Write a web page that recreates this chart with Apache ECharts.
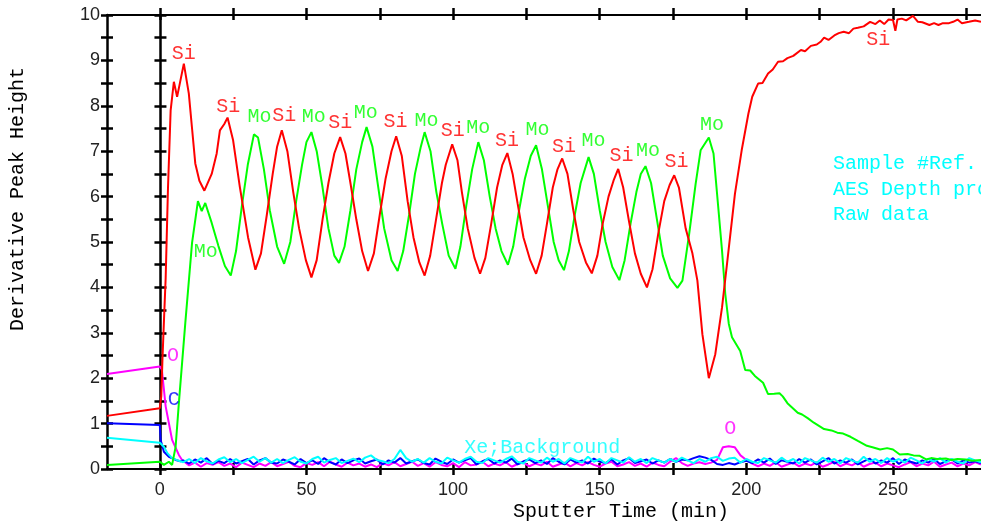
<!DOCTYPE html>
<html>
<head>
<meta charset="utf-8">
<script src="https://cdn.jsdelivr.net/npm/echarts@6/dist/echarts.min.js"></script>
<style>
  html, body { margin: 0; padding: 0; background: #fff; }
  #chart { width: 981px; height: 525px; }
</style>
</head>
<body>
<div id="chart"></div>
<script>
// Axis ticks and labels
const xTicks = [0, 25, 50, 75, 100, 125, 150, 175, 200, 225, 250, 275];
const xLabels = [0, 50, 100, 150, 200, 250];
const yLabels = [0, 1, 2, 3, 4, 5, 6, 7, 8, 9, 10];

// Si signal (sputter time, peak height)
const siProfile = [
  [-18, 1.17], [0, 1.34], [0.5, 1.6], [0.9, 2.4], [1.5, 3.4], [2, 4.2], [2.8, 6.2], [3.7, 7.9],
  [4.8, 8.53], [5.9, 8.2], [6.7, 8.45], [8.2, 8.93], [9.9, 8.27], [11, 7.5], [12.1, 6.73],
  [13.5, 6.35], [15.2, 6.13], [17.7, 6.5], [19.4, 6.95], [20.5, 7.46], [22, 7.6], [23.1, 7.74],
  [25, 7.24], [27.3, 6.21], [30.1, 5.1], [32.6, 4.39], [34.5, 4.75], [36.5, 5.6], [38.5, 6.5],
  [40, 7.1], [41.6, 7.46], [43.5, 7.0], [45.5, 6.1], [47.5, 5.3], [49.8, 4.6], [51.7, 4.22],
  [53.5, 4.6], [55.5, 5.5], [57.5, 6.3], [59.5, 6.95], [61.5, 7.31], [63.3, 6.95], [65, 6.3],
  [67, 5.5], [69, 4.8], [71, 4.36], [73, 4.75], [75, 5.6], [77, 6.4], [79, 7.0], [80.6, 7.33],
  [82.5, 6.9], [84.5, 5.9], [86.5, 5.1], [88.5, 4.55], [90.3, 4.26], [92.2, 4.7], [94.2, 5.5],
  [96.2, 6.3], [97.5, 6.7], [99.7, 7.15], [101.5, 6.8], [103, 6.1], [105, 5.3], [107.3, 4.65],
  [109.2, 4.3], [111, 4.65], [113, 5.4], [115, 6.2], [116.8, 6.7], [118.5, 6.96], [120.3, 6.5],
  [122, 5.85], [124, 5.1], [126.3, 4.6], [128.3, 4.3], [130.2, 4.7], [132, 5.4], [134, 6.2],
  [135.6, 6.6], [137.2, 6.84], [139, 6.5], [141, 5.7], [143, 5.0], [145.3, 4.55], [147.3, 4.31],
  [149.2, 4.7], [151, 5.4], [153, 6.0], [154.7, 6.35], [156.3, 6.61], [158, 6.2], [160, 5.45],
  [162, 4.75], [164, 4.3], [166.1, 4.0], [168, 4.4], [170, 5.2], [172, 5.9], [173.8, 6.25],
  [175.4, 6.47], [177, 6.2], [179.3, 5.3], [181.6, 4.75], [183.3, 4.15], [185, 2.97], [187.2, 2.0],
  [189.4, 2.53], [191.7, 3.56], [193.4, 4.52], [196.1, 6.06], [198.4, 7.02], [200.7, 7.83],
  [202, 8.2], [204, 8.49], [205.5, 8.5], [207.4, 8.71], [209, 8.8], [210.8, 8.97], [212.5, 8.98],
  [214, 9.05], [216, 9.1], [218.6, 9.23], [220, 9.2], [222, 9.32], [224, 9.35], [225.3, 9.41],
  [226.5, 9.5], [228, 9.45], [230, 9.55], [231.5, 9.6], [233.2, 9.63], [235, 9.6], [236.5, 9.7],
  [238, 9.72], [240, 9.75], [242.2, 9.85], [244, 9.8], [245.5, 9.88], [247, 9.8], [248.5, 9.9],
  [250, 9.89], [250.8, 9.65], [251.5, 9.9], [253, 9.92], [254.5, 9.88], [256.8, 9.98],
  [258.5, 9.85], [260, 9.84], [262.4, 9.78], [264, 9.82], [265.5, 9.78], [267, 9.82],
  [269.1, 9.82], [270.5, 9.85], [272, 9.9], [273.5, 9.82], [275.9, 9.85], [278, 9.88], [280, 9.85]
];

// Mo signal
const moProfile = [
  [-18, 0.09], [0, 0.16], [1.4, 0.09], [3.1, 0.16], [4.2, 0.09], [5.4, 0.49], [6.5, 1.45],
  [8.7, 3.22], [11, 4.98], [13, 5.9], [14.3, 5.68], [15.5, 5.86], [17.7, 5.42], [20, 4.91],
  [22.2, 4.47], [24.2, 4.26], [26, 4.8], [28, 5.8], [30, 6.7], [32.1, 7.37], [33.5, 7.3],
  [35.5, 6.6], [37.5, 5.7], [40, 4.9], [42.4, 4.52], [44.5, 5.0], [46.5, 5.9], [48.5, 6.7],
  [50, 7.2], [51.7, 7.42], [53.5, 7.0], [55.5, 6.2], [57.5, 5.3], [59.5, 4.7], [61.1, 4.54],
  [63, 4.9], [65, 5.7], [67, 6.6], [69, 7.2], [70.5, 7.53], [72.5, 7.1], [74.5, 6.2], [76.5, 5.3],
  [79, 4.6], [81.1, 4.36], [83, 4.8], [85, 5.6], [87, 6.5], [89, 7.1], [90.3, 7.42], [92.3, 7.0],
  [94.3, 6.1], [96.3, 5.4], [98.5, 4.7], [100.8, 4.41], [102.5, 4.9], [104.5, 5.8], [106.5, 6.6],
  [108.6, 7.2], [110.5, 6.8], [112.5, 6.0], [114.5, 5.3], [116.5, 4.8], [118.7, 4.5], [120.5, 4.9],
  [122.5, 5.7], [124.5, 6.4], [126.5, 6.9], [128.3, 7.13], [130.3, 6.6], [132.3, 5.8], [134.3, 5.0],
  [136, 4.6], [137.8, 4.38], [139.5, 4.8], [141.5, 5.6], [143.5, 6.3], [146.2, 6.87], [148, 6.5],
  [150, 5.7], [152, 5.0], [154.3, 4.45], [156.7, 4.16], [158.5, 4.6], [160.5, 5.4], [162.5, 6.1],
  [164, 6.5], [165.6, 6.67], [167.5, 6.3], [169.5, 5.5], [171.5, 4.7], [174, 4.2], [176.5, 3.99],
  [178.2, 4.15], [180.5, 5.18], [182.7, 6.28], [184.4, 7.02], [187.2, 7.3], [188.8, 6.95],
  [190.5, 5.7], [191.7, 4.81], [192.8, 3.86], [194, 3.2], [195.1, 2.9], [197.9, 2.6], [199.6, 2.18],
  [201.3, 2.17], [202.9, 2.05], [205.7, 1.9], [207.4, 1.65], [209.5, 1.66], [211.3, 1.67],
  [212.4, 1.6], [214, 1.45], [217.5, 1.24], [219, 1.2], [220.9, 1.12], [223, 1.02], [226.5, 0.88],
  [229, 0.85], [231, 0.8], [233, 0.78], [235.5, 0.71], [238, 0.62], [241.1, 0.51], [243, 0.48],
  [245.6, 0.43], [248, 0.46], [250, 0.43], [252.3, 0.32], [255, 0.33], [257, 0.3], [259.1, 0.29],
  [261.3, 0.21], [263, 0.24], [265, 0.22], [268, 0.23], [270, 0.2], [272, 0.22], [274.8, 0.21],
  [277, 0.18], [280, 0.2]
];

// Lead-in (before and just after sputtering starts) for O, C and Xe
const oStart = [[-18, 2.09], [0, 2.26], [0.7, 2.19], [2, 1.38], [4.2, 0.64], [6.5, 0.31], [7.6, 0.2]];
const cStart = [[-18, 1.01], [0, 0.97], [0.3, 0.64], [1.4, 0.38], [3.1, 0.27], [5.4, 0.2], [7, 0.17]];
const xeStart = [[-18, 0.69], [0, 0.58], [1.4, 0.49], [2.6, 0.35], [4.2, 0.24], [6.5, 0.18]];

// Sample times of the low-level traces
const noiseT = [
  8, 10, 12, 14, 16, 18, 20, 22, 24, 26,
  28, 30, 32, 34, 36, 38, 40, 42, 44, 46,
  48, 50, 52, 54, 56, 58, 60, 62, 64, 66,
  68, 70, 72, 74, 76, 78, 80, 82, 84, 86,
  88, 90, 92, 94, 96, 98, 100, 102, 104, 106,
  108, 110, 112, 114, 116, 118, 120, 122, 124, 126,
  128, 130, 132, 134, 136, 138, 140, 142, 144, 146,
  148, 150, 152, 154, 156, 158, 160, 162, 164, 166,
  168, 170, 172, 174, 176, 178, 180, 182, 184, 186,
  188, 190, 192, 194, 196, 198, 200, 202, 204, 206,
  208, 210, 212, 214, 216, 218, 220, 222, 224, 226,
  228, 230, 232, 234, 236, 238, 240, 242, 244, 246,
  248, 250, 252, 254, 256, 258, 260, 262, 264, 266,
  268, 270, 272, 274, 276, 278, 280
];

const oLevel = [
  0.16, 0.08, 0.14, 0.05, 0.13, 0.09, 0.15, 0.07, 0.12, 0.04,
  0.14, 0.09, 0.04, 0.12, 0.07, 0.15, 0.06, 0.11, 0.16, 0.07,
  0.04, 0.13, 0.09, 0.15, 0.06, 0.16, 0.10, 0.05, 0.14, 0.08,
  0.12, 0.05, 0.10, 0.04, 0.13, 0.08, 0.15, 0.06, 0.11, 0.16,
  0.07, 0.13, 0.05, 0.15, 0.09, 0.06, 0.13, 0.04, 0.15, 0.08,
  0.10, 0.16, 0.06, 0.12, 0.08, 0.15, 0.05, 0.11, 0.14, 0.06,
  0.12, 0.08, 0.16, 0.05, 0.10, 0.14, 0.06, 0.13, 0.08, 0.15,
  0.09, 0.05, 0.12, 0.16, 0.06, 0.10, 0.15, 0.07, 0.12, 0.05,
  0.14, 0.09, 0.06, 0.16, 0.24, 0.13, 0.07, 0.12, 0.15, 0.11,
  0.14, 0.20, 0.48, 0.50, 0.48, 0.30, 0.20, 0.12, 0.06, 0.12,
  0.07, 0.15, 0.05, 0.10, 0.14, 0.06, 0.12, 0.08, 0.15, 0.05,
  0.10, 0.16, 0.06, 0.12, 0.08, 0.15, 0.05, 0.11, 0.14, 0.06,
  0.12, 0.08, 0.04, 0.10, 0.15, 0.06, 0.12, 0.08, 0.16, 0.05,
  0.10, 0.14, 0.06, 0.12, 0.08, 0.15, 0.10
];

const cLevel = [
  0.19, 0.12, 0.21, 0.14, 0.24, 0.11, 0.18, 0.13, 0.22, 0.12,
  0.17, 0.22, 0.10, 0.19, 0.24, 0.14, 0.12, 0.21, 0.16, 0.10,
  0.22, 0.13, 0.19, 0.11, 0.24, 0.15, 0.10, 0.21, 0.13, 0.19,
  0.23, 0.12, 0.17, 0.21, 0.10, 0.19, 0.14, 0.24, 0.12, 0.17,
  0.21, 0.13, 0.10, 0.23, 0.16, 0.11, 0.21, 0.14, 0.19, 0.24,
  0.10, 0.17, 0.22, 0.12, 0.19, 0.14, 0.23, 0.10, 0.17, 0.21,
  0.13, 0.19, 0.11, 0.24, 0.16, 0.10, 0.21, 0.14, 0.19, 0.12,
  0.23, 0.16, 0.13, 0.21, 0.10, 0.19, 0.24, 0.13, 0.17, 0.21,
  0.12, 0.19, 0.14, 0.22, 0.16, 0.21, 0.19, 0.24, 0.28, 0.25,
  0.20, 0.11, 0.09, 0.13, 0.10, 0.15, 0.18, 0.13, 0.21, 0.14,
  0.23, 0.11, 0.19, 0.16, 0.12, 0.22, 0.14, 0.21, 0.10, 0.17,
  0.24, 0.12, 0.19, 0.14, 0.21, 0.10, 0.17, 0.23, 0.12, 0.19,
  0.14, 0.24, 0.11, 0.21, 0.16, 0.12, 0.19, 0.14, 0.22, 0.11,
  0.17, 0.21, 0.12, 0.19, 0.14, 0.17, 0.13
];

const xeLevel = [
  0.15, 0.22, 0.13, 0.24, 0.17, 0.12, 0.21, 0.26, 0.15, 0.22,
  0.13, 0.20, 0.27, 0.16, 0.24, 0.14, 0.22, 0.13, 0.20, 0.26,
  0.16, 0.12, 0.22, 0.27, 0.14, 0.20, 0.24, 0.13, 0.18, 0.23,
  0.15, 0.25, 0.30, 0.20, 0.17, 0.13, 0.22, 0.42, 0.24, 0.16,
  0.22, 0.14, 0.24, 0.16, 0.12, 0.25, 0.19, 0.14, 0.22, 0.27,
  0.16, 0.13, 0.24, 0.19, 0.14, 0.22, 0.28, 0.16, 0.12, 0.24,
  0.19, 0.14, 0.25, 0.16, 0.22, 0.12, 0.24, 0.19, 0.14, 0.27,
  0.16, 0.22, 0.12, 0.24, 0.19, 0.14, 0.26, 0.16, 0.22, 0.13,
  0.24, 0.19, 0.14, 0.22, 0.16, 0.25, 0.19, 0.13, 0.22, 0.16,
  0.24, 0.27, 0.18, 0.23, 0.25, 0.14, 0.22, 0.16, 0.13, 0.24,
  0.19, 0.14, 0.25, 0.16, 0.22, 0.12, 0.24, 0.19, 0.14, 0.25,
  0.16, 0.22, 0.12, 0.24, 0.19, 0.14, 0.27, 0.16, 0.22, 0.13,
  0.24, 0.16, 0.22, 0.14, 0.25, 0.19, 0.12, 0.22, 0.16, 0.24,
  0.14, 0.22, 0.16, 0.12, 0.24, 0.19, 0.15
];

// Peak annotations (time, height of the label centre)
const siTags = [[8.2, 9.15], [23.3, 7.99], [42.4, 7.79], [61.5, 7.62], [80.4, 7.64], [99.9, 7.45],
  [118.4, 7.23], [137.8, 7.09], [157.4, 6.89], [176.2, 6.76], [245, 9.46]];
const moTags = [[15.7, 4.79], [34, 7.75], [52.5, 7.77], [70.2, 7.84], [90.9, 7.67], [108.6, 7.52],
  [128.8, 7.48], [147.9, 7.23], [166.5, 7.0], [188.3, 7.59]];
const oTags = [[4.5, 2.49], [194.5, 0.88]];
const cTags = [[4.8, 1.52]];
const xeTags = [[130.4, 0.47]];

const infoLines = ['Sample #Ref.', 'AES Depth profile', 'Raw data'];

const MONO = '"Liberation Mono", "DejaVu Sans Mono", monospace';
const SANS = '"Liberation Sans", Arial, sans-serif';

const withLevels = (start, levels) => start.concat(noiseT.map((t, i) => [t, levels[i]]));

function xAxisDef(position, inside, len, line, labels) {
  return {
    type: 'value', position, min: -18, max: 280,
    axisLine: { show: line, onZero: false, lineStyle: { color: '#000', width: 2 } },
    axisTick: { show: true, inside, length: len, customValues: xTicks, lineStyle: { color: '#000', width: 2.5 } },
    axisLabel: { show: labels, customValues: xLabels, fontFamily: SANS, fontSize: 18, color: '#222', margin: 12 },
    splitLine: { show: false }
  };
}
function yAxisDef(offset, inside, line, labels) {
  return {
    type: 'value', position: 'left', min: 0, max: 10, interval: 0.5, offset,
    axisLine: { show: line, onZero: false, lineStyle: { color: '#000', width: 2.5 } },
    axisTick: { show: true, inside, length: 6, lineStyle: { color: '#000', width: 2.5 } },
    axisLabel: { show: labels, customValues: yLabels, fontFamily: SANS, fontSize: 18, color: '#222', margin: 7 },
    splitLine: { show: false }
  };
}
function trace(data, color) {
  return { type: 'line', data, showSymbol: false, symbol: 'none', silent: true,
    lineStyle: { color, width: 2 }, itemStyle: { color } };
}
function tags(data, text, color) {
  return { type: 'scatter', data, symbolSize: 1, silent: true, z: 6,
    itemStyle: { color: 'rgba(0,0,0,0)' },
    label: { show: true, position: 'inside', formatter: text, color, fontFamily: MONO, fontSize: 20 } };
}

const chart = echarts.init(document.getElementById('chart'), null, { renderer: 'canvas' });
chart.setOption({
  animation: false,
  backgroundColor: '#fff',
  grid: { left: 107, right: -11, top: 15, bottom: 56, containLabel: false },
  xAxis: [
    xAxisDef('bottom', false, 6, true, true),
    xAxisDef('bottom', true, 6, false, false),
    xAxisDef('top', false, 7, true, false),
    xAxisDef('top', true, 5, false, false)
  ],
  yAxis: [
    yAxisDef(0, false, true, true),
    yAxisDef(0, true, false, false),
    yAxisDef(-53.46, false, true, false),
    yAxisDef(-53.46, true, false, false)
  ],
  series: [
    trace(withLevels(oStart, oLevel), '#ff00ff'),
    trace(withLevels(cStart, cLevel), '#0000ff'),
    trace(withLevels(xeStart, xeLevel), '#00ffff'),
    trace(moProfile, '#00ff00'),
    trace(siProfile, '#ff0000'),
    tags(siTags, 'Si', '#ff0000'),
    tags(moTags, 'Mo', '#00ff00'),
    tags(oTags, 'O', '#ff00ff'),
    tags(cTags, 'C', '#0000ff'),
    tags(xeTags, 'Xe;Background', '#00ffff')
  ],
  graphic: [
    { type: 'text', x: 18, y: 199, rotation: Math.PI / 2, silent: true,
      style: { text: 'Derivative Peak Height', font: '20px ' + MONO, fill: '#000', align: 'center', verticalAlign: 'middle' } },
    { type: 'text', x: 621, y: 512, silent: true,
      style: { text: 'Sputter Time (min)', font: '20px ' + MONO, fill: '#000', align: 'center', verticalAlign: 'middle' } },
    ...infoLines.map((line, i) => ({ type: 'text', x: 833, y: 164 + i * 25.5, silent: true,
      style: { text: line, font: '20px ' + MONO, fill: '#00ffff', align: 'left', verticalAlign: 'middle' } }))
  ]
});
</script>
</body>
</html>
